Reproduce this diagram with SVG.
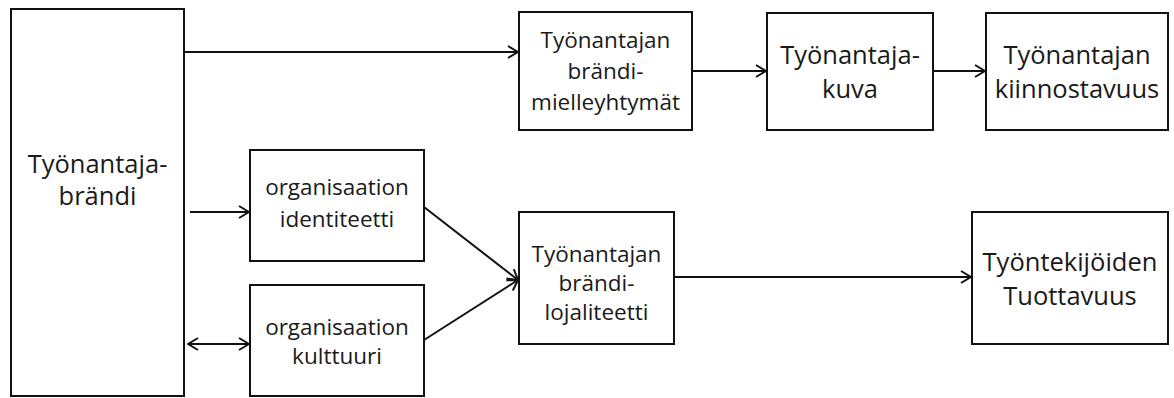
<svg xmlns="http://www.w3.org/2000/svg" width="1174" height="398" viewBox="0 0 1174 398">
  <style>
    .box { fill: #ffffff; stroke: #111111; stroke-width: 2; }
    .lbl { font-family: "Open Sans", "Liberation Sans", sans-serif; fill: #1a1a1a; text-anchor: middle; }
    .s { font-size: 22.5px; }
    .l { font-size: 25.5px; }
    .con { fill: none; stroke: #111111; stroke-width: 2; }
  </style>
  <defs>
    <marker id="arr" markerUnits="userSpaceOnUse" markerWidth="12" markerHeight="14" viewBox="0 0 12 14" refX="11" refY="7" orient="auto-start-reverse">
      <path d="M1,1 L11,7 L1,13" fill="none" stroke="#111111" stroke-width="2"/>
    </marker>
  </defs>
  <rect width="1174" height="398" fill="#ffffff"/>

  <g id="connectors">
    <line class="con" x1="184" y1="52" x2="518" y2="52" marker-end="url(#arr)"/>
    <line class="con" x1="692" y1="71" x2="766" y2="71" marker-end="url(#arr)"/>
    <line class="con" x1="933" y1="71" x2="985" y2="71" marker-end="url(#arr)"/>
    <line class="con" x1="190" y1="212" x2="249" y2="212" marker-end="url(#arr)"/>
    <line class="con" x1="188" y1="344" x2="249" y2="344" marker-start="url(#arr)" marker-end="url(#arr)"/>
    <line class="con" x1="424" y1="207" x2="518" y2="280" marker-end="url(#arr)"/>
    <line class="con" x1="424" y1="340" x2="518" y2="280" marker-end="url(#arr)"/>
    <line class="con" x1="674" y1="277" x2="971" y2="277" marker-end="url(#arr)"/>
  </g>

  <g id="tyonantajabrandi">
    <rect class="box" x="11" y="9" width="173" height="387"/>
    <text class="lbl l" x="97.5" y="173">Työnantaja-</text>
    <text class="lbl l" x="97.5" y="205">brändi</text>
  </g>

  <g id="mielleyhtymat">
    <rect class="box" x="519" y="12" width="173" height="118"/>
    <text class="lbl s" x="605.5" y="48">Työnantajan</text>
    <text class="lbl s" x="605.5" y="79">brändi-</text>
    <text class="lbl s" x="605.5" y="110">mielleyhtymät</text>
  </g>

  <g id="tyonantajakuva">
    <rect class="box" x="767" y="13" width="166" height="117"/>
    <text class="lbl l" x="850" y="64">Työnantaja-</text>
    <text class="lbl l" x="850" y="98">kuva</text>
  </g>

  <g id="kiinnostavuus">
    <rect class="box" x="986" y="13" width="182" height="117"/>
    <text class="lbl l" x="1077" y="64">Työnantajan</text>
    <text class="lbl l" x="1077" y="98">kiinnostavuus</text>
  </g>

  <g id="identiteetti">
    <rect class="box" x="250" y="150" width="174" height="111"/>
    <text class="lbl s" x="337" y="195">organisaation</text>
    <text class="lbl s" x="337" y="227">identiteetti</text>
  </g>

  <g id="kulttuuri">
    <rect class="box" x="250" y="285" width="174" height="111"/>
    <text class="lbl s" x="337" y="335">organisaation</text>
    <text class="lbl s" x="337" y="364">kulttuuri</text>
  </g>

  <g id="lojaliteetti">
    <rect class="box" x="519" y="212" width="155" height="132"/>
    <text class="lbl s" x="596.5" y="262">Työnantajan</text>
    <text class="lbl s" x="596.5" y="291">brändi-</text>
    <text class="lbl s" x="596.5" y="320">lojaliteetti</text>
  </g>

  <g id="tuottavuus">
    <rect class="box" x="972" y="212" width="196" height="132"/>
    <text class="lbl l" x="1070" y="271">Työntekijöiden</text>
    <text class="lbl l" x="1070" y="305">Tuottavuus</text>
  </g>
</svg>
